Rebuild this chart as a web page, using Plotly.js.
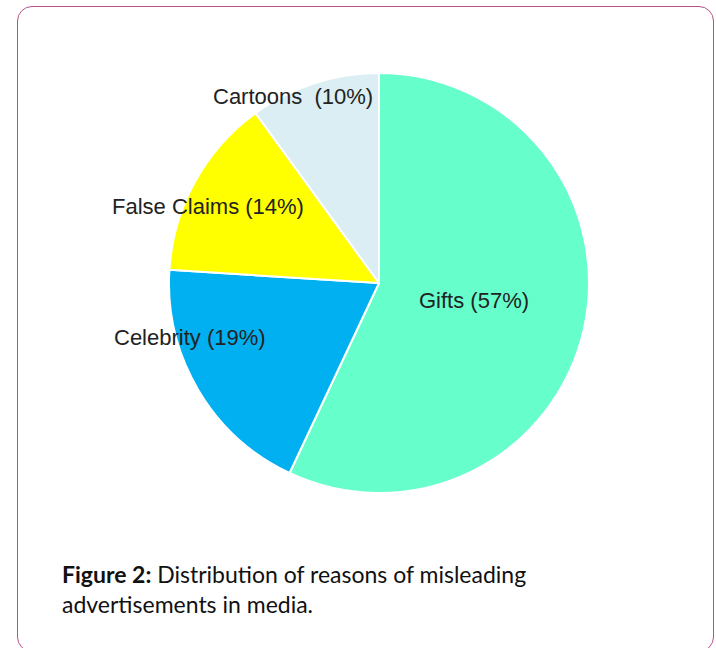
<!DOCTYPE html>
<html>
<head>
<meta charset="utf-8">
<script src="https://cdn.plot.ly/plotly-3.0.1.min.js"></script>
<style>
  html, body { margin: 0; padding: 0; background: #ffffff; }
  #wrap { position: relative; width: 716px; height: 648px; overflow: hidden; }
  #chart { position: absolute; left: 0; top: 0; width: 716px; height: 648px; }
  #frame { position: absolute; left: 17px; top: 6px; width: 695px; height: 644px;
           border: 1.5px solid #b5528a; border-radius: 15px; pointer-events: none; }
</style>
</head>
<body>
<div id="wrap">
  <div id="chart"></div>
  <div id="frame"></div>
</div>
<script>
const categories = ["Gifts", "Celebrity", "False Claims", "Cartoons"];
const values = [57, 19, 14, 10];
const sliceColors = ["#66FFCC", "#00B0F0", "#FFFF00", "#DAEEF3"];
const labelTexts = ["Gifts (57%)", "Celebrity (19%)", "False Claims (14%)", "Cartoons  (10%)"];
const captionBold = "Figure 2:";
const captionText = "Distribution of reasons of misleading<br>advertisements in media.";

// label positions in pixels (layout, not data)
const W = 716, H = 648;
const labelPos = [[474, 300], [190, 337], [208, 207], [293, 96]];

const trace = {
  type: "pie",
  labels: categories,
  values: values,
  sort: false,
  direction: "clockwise",
  rotation: 0,
  textinfo: "none",
  hoverinfo: "none",
  marker: { colors: sliceColors, line: { color: "#ffffff", width: 2 } },
  domain: { x: [(379 - 210) / W, (379 + 210) / W], y: [(H - 283 - 210) / H, (H - 283 + 210) / H] },
  showlegend: false
};

const annotations = labelTexts.map((t, i) => ({
  text: t,
  xref: "paper", yref: "paper",
  x: labelPos[i][0] / W, y: 1 - labelPos[i][1] / H,
  xanchor: "center", yanchor: "middle",
  showarrow: false,
  font: { family: "Liberation Sans, Arial, sans-serif", size: 22, color: "#222222" }
}));

annotations.push({
  text: "<b>" + captionBold + "</b> " + captionText,
  xref: "paper", yref: "paper",
  x: 60 / W, y: 1 - 558 / H,
  xanchor: "left", yanchor: "top", align: "left",
  showarrow: false,
  font: { family: "Lato, 'Open Sans', sans-serif", size: 23, color: "#111111" }
});

const layout = {
  width: W, height: H,
  margin: { l: 0, r: 0, t: 0, b: 0 },
  paper_bgcolor: "#ffffff",
  annotations: annotations
};

Plotly.newPlot("chart", [trace], layout, { displayModeBar: false, staticPlot: true });
</script>
</body>
</html>
